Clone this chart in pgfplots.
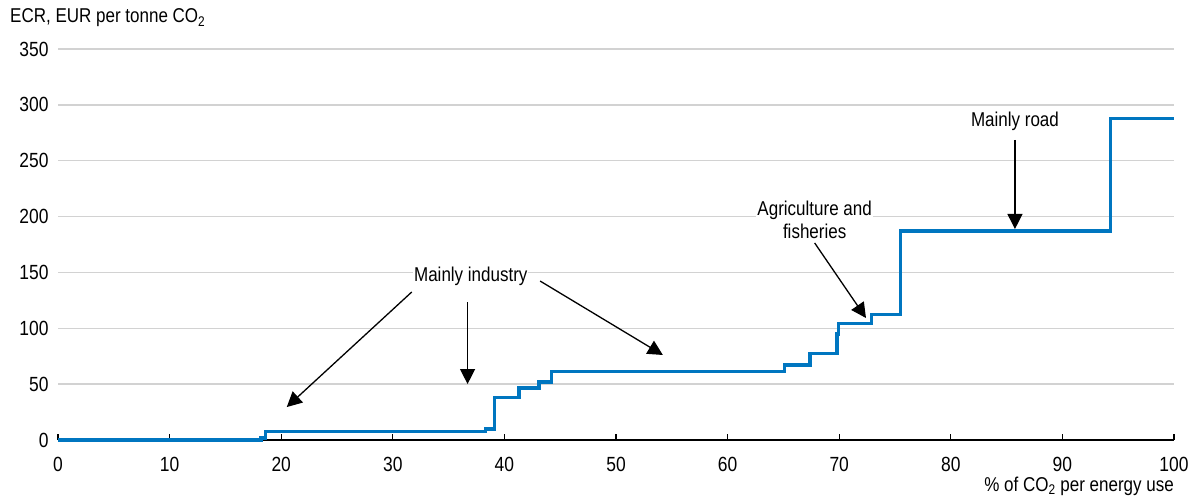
\documentclass[border=0pt]{standalone}
\usepackage{fontspec}
\setmainfont{Liberation Sans}[FakeStretch=0.85]
\usepackage{pgfplots}
\pgfplotsset{compat=1.18}
\usetikzlibrary{arrows.meta}
\definecolor{lineblue}{RGB}{0,118,192}
\definecolor{gridgray}{RGB}{210,210,210}
\begin{document}
\begin{tikzpicture}[font=\fontsize{20bp}{23bp}\selectfont]
\path[use as bounding box] (-58bp,-56bp) rectangle (1138bp,440bp);
\begin{axis}[
  scale only axis, width=1116bp, height=391bp,
  xmin=0, xmax=100, ymin=0, ymax=350,
  xtick={0,10,...,100}, ytick={0,50,...,350},
  axis x line*=bottom, axis y line*=left,
  x axis line style={-, black, line width=1.3bp},
  y axis line style={draw=none},
  ymajorgrids, grid style={gridgray, line width=1.3bp},
  xtick align=inside, major tick length=6bp,
  xtick style={black, line width=1.2bp},
  ytick style={draw=none},
  /pgf/number format/assume math mode=true,
  tick label style={font=\fontsize{20.5bp}{23bp}\selectfont},
  yticklabel style={anchor=east, xshift=-6bp},
  xticklabel style={anchor=north, yshift=-14bp},
  clip=false,
]
\addplot[const plot, lineblue, line width=3.5bp] coordinates {
(0,0) (18.2,2) (18.6,7.5) (38.3,10) (39.1,38) (41.3,46.5) (43.1,52) (44.2,61.5)
(65.1,67) (67.4,77.5) (69.8,95) (69.95,104.5) (72.9,112.5) (75.5,187) (94.3,288) (100,288)
};
\draw[-{Triangle[length=15bp,width=15bp]}, line width=1.3bp] (axis cs:31.7,132.5) -- (axis cs:20.5,29.5);
\draw[-{Triangle[length=15bp,width=15bp]}, line width=1.3bp] (axis cs:36.7,123.5) -- (axis cs:36.7,50.1);
\draw[-{Triangle[length=15bp,width=15bp]}, line width=1.3bp] (axis cs:43.2,142.3) -- (axis cs:54.2,76.1);
\draw[-{Triangle[length=15bp,width=15bp]}, line width=1.3bp] (axis cs:67.8,176.4) -- (axis cs:72.4,109.2);
\draw[-{Triangle[length=15bp,width=15bp]}, line width=1.3bp] (axis cs:85.75,268.6) -- (axis cs:85.75,188.9);
\node[fill=white, inner sep=1bp] at (axis cs:36.99,146.8) {Mainly industry};
\node[fill=white, inner sep=1bp, align=center] at (axis cs:67.8,197) {Agriculture and\\fisheries};
\node[fill=white, inner sep=1bp] at (axis cs:85.75,285.6) {Mainly road};
\node[anchor=west, inner sep=0pt] at ([xshift=-48bp,yshift=31bp]rel axis cs:0,1) {ECR, EUR per tonne CO\textsubscript{2}};
\node[anchor=north east, inner sep=0pt] at ([yshift=-37bp]rel axis cs:1,0) {\% of CO\textsubscript{2} per energy use};
\end{axis}
\end{tikzpicture}
\end{document}
